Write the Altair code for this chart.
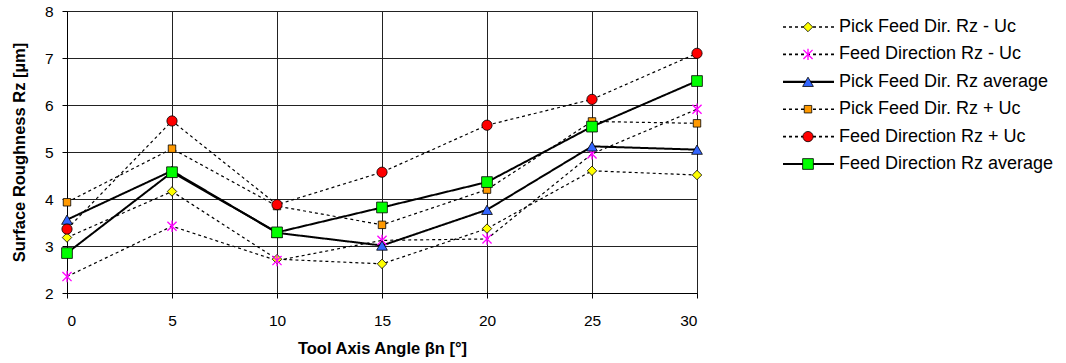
import altair as alt
import pandas as pd

angles = [0, 5, 10, 15, 20, 25, 30]
series_names = [
    "Pick Feed Dir. Rz - Uc",
    "Feed Direction Rz - Uc",
    "Pick Feed Dir. Rz average",
    "Pick Feed Dir. Rz + Uc",
    "Feed Direction Rz + Uc",
    "Feed Direction Rz average",
]
pick_minus = [3.18, 4.16, 2.72, 2.62, 3.37, 4.60, 4.51]
feed_minus = [2.35, 3.42, 2.69, 3.12, 3.15, 4.96, 5.91]
pick_avg = [3.56, 4.60, 3.28, 3.01, 3.77, 5.12, 5.05]
pick_plus = [3.93, 5.07, 3.85, 3.45, 4.20, 5.65, 5.61]
feed_plus = [3.36, 5.66, 3.88, 4.57, 5.57, 6.12, 7.10]
feed_avg = [2.85, 4.57, 3.29, 3.82, 4.36, 5.54, 6.51]

all_vals = [pick_minus, feed_minus, pick_avg, pick_plus, feed_plus, feed_avg]
rows = []
for i, (name, vals) in enumerate(zip(series_names, all_vals)):
    for a, v in zip(angles, vals):
        rows.append({"angle": a, "value": v, "series": name, "order": i})
df = pd.DataFrame(rows)
leg_df = pd.DataFrame({"series": series_names, "order": list(range(6))})

FONT = "Liberation Sans"
asterisk = "M-0.8,-0.8L0.8,0.8M-0.8,0.8L0.8,-0.8M0,-1L0,1"

def oscale(rng):
    return alt.Scale(type="ordinal", domain=series_names, range=rng)

dash_scale = oscale([[3, 3], [3, 3], [1, 0], [3, 3], [3, 3], [1, 0]])
width_scale = oscale([1.2, 1.2, 2, 1.2, 1.2, 2])
shape_scale = oscale(["diamond", asterisk, "triangle-up", "square", "circle", "square"])
fill_scale = oscale(["#FFFF00", "#FF00FF", "#3366FF", "#FF9900", "#FF0000", "#00FF00"])
stroke_scale = oscale(["#000000", "#FF00FF", "#000000", "#000000", "#000000", "#000000"])
size_scale = oscale([90, 130, 115, 56, 105, 115])
sw_scale = oscale([0.8, 1.3, 0.8, 0.8, 0.8, 0.8])

base = alt.Chart(df)

x_enc = alt.X("angle:Q",
              scale=alt.Scale(domain=[0, 30], nice=False),
              axis=alt.Axis(values=angles, title="Tool Axis Angle βn [°]",
                            labelPadding=15, titlePadding=12, tickSize=5))
y_enc = alt.Y("value:Q",
              scale=alt.Scale(domain=[2, 8], nice=False),
              axis=alt.Axis(values=[2, 3, 4, 5, 6, 7, 8], title="Surface Roughness Rz [µm]",
                            labelPadding=9, titlePadding=17, tickSize=5))

lines = base.mark_line(color="black").encode(
    x=x_enc, y=y_enc,
    detail="series:N",
    order="angle:Q",
    strokeDash=alt.StrokeDash("series:N", scale=dash_scale, legend=None),
    strokeWidth=alt.StrokeWidth("series:N", scale=width_scale, legend=None),
)

points = base.mark_point(filled=False, opacity=1).encode(
    x="angle:Q", y="value:Q",
    shape=alt.Shape("series:N", scale=shape_scale, legend=None),
    fill=alt.Fill("series:N", scale=fill_scale, legend=None),
    stroke=alt.Stroke("series:N", scale=stroke_scale, legend=None),
    size=alt.Size("series:N", scale=size_scale, legend=None),
    strokeWidth=alt.StrokeWidth("series:N", scale=sw_scale, legend=None),
    order="order:Q",
)

main = alt.layer(lines, points).properties(
    width=630, height=282,
    view=alt.ViewBackground(stroke="#808080", strokeWidth=1),
).resolve_scale(strokeWidth="independent")

lbase = alt.Chart(leg_df)
ly = alt.Y("series:N", scale=alt.Scale(type="point", domain=series_names, padding=0.584),
           axis=None)

leg_lines = lbase.mark_rule(color="black").encode(
    x=alt.value(0), x2=alt.value(51), y=ly,
    strokeDash=alt.StrokeDash("series:N", scale=dash_scale, legend=None),
    strokeWidth=alt.StrokeWidth("series:N",
                                scale=oscale([1.6, 1.6, 2.2, 1.6, 1.6, 2.2]),
                                legend=None),
)
leg_points = lbase.mark_point(filled=False, opacity=1).encode(
    x=alt.value(25), y=ly,
    shape=alt.Shape("series:N", scale=shape_scale, legend=None),
    fill=alt.Fill("series:N", scale=fill_scale, legend=None),
    stroke=alt.Stroke("series:N", scale=stroke_scale, legend=None),
    size=alt.Size("series:N", scale=size_scale, legend=None),
    strokeWidth=alt.StrokeWidth("series:N", scale=sw_scale, legend=None),
)
leg_text = lbase.mark_text(align="left", baseline="middle", font=FONT, fontSize=18,
                           color="black").encode(
    x=alt.value(56), y=ly, text="series:N",
)
legend = alt.layer(leg_lines, leg_points, leg_text).properties(
    width=276, height=169,
    view=alt.ViewBackground(stroke="transparent"),
).resolve_scale(strokeWidth="independent")

chart = alt.hconcat(main, legend, spacing=76).properties(
    padding={"left": 10, "top": 3, "right": 0, "bottom": 0},
    background="white",
).configure_axis(
    labelFont=FONT, labelFontSize=15.5, labelColor="black",
    titleFont=FONT, titleFontSize=16.5, titleFontWeight="bold", titleColor="black",
    tickColor="black", domainColor="black", gridColor="#222222", gridWidth=1,
    domainWidth=1, tickWidth=1,
)

chart.save("out.html", embed_options={"renderer": "svg", "actions": False})
